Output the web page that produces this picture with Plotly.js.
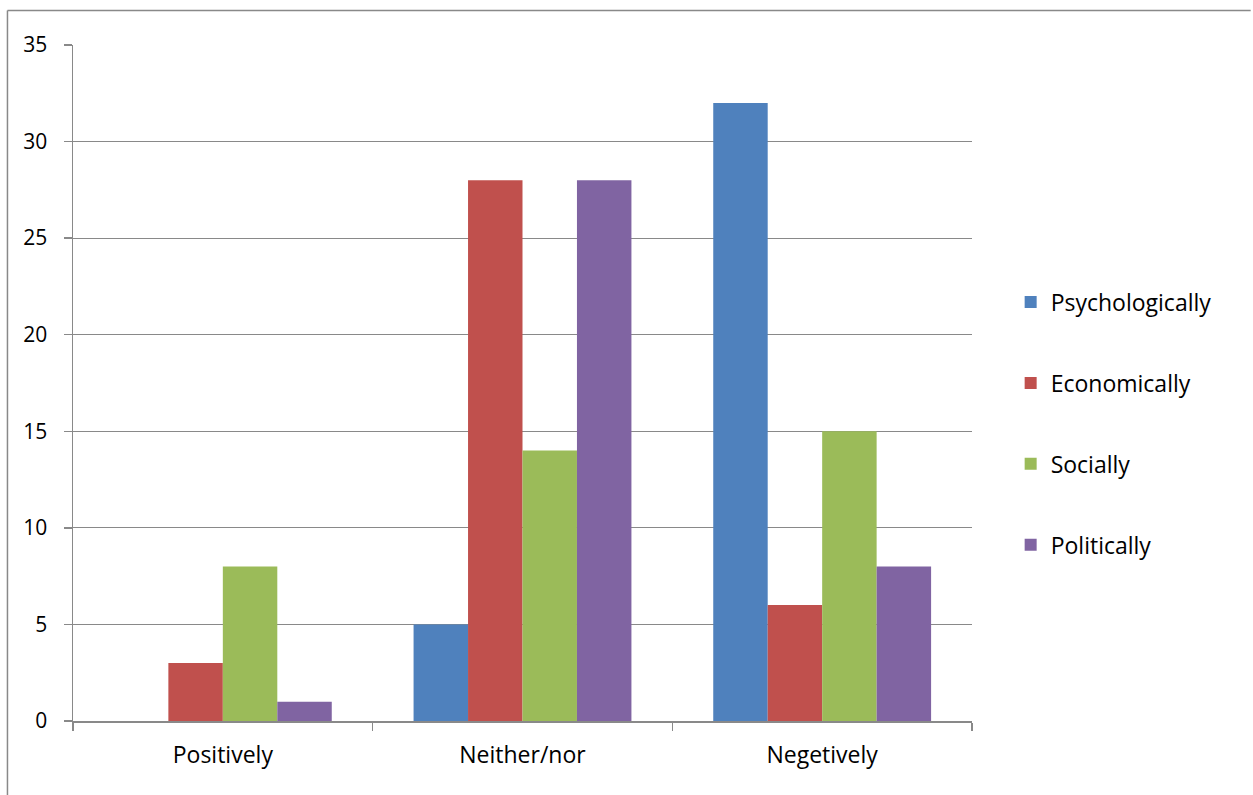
<!DOCTYPE html>
<html>
<head>
<meta charset="utf-8">
<script src="https://cdn.plot.ly/plotly-3.0.1.min.js"></script>
<style>
  html, body { margin: 0; padding: 0; background: #fff; }
  #chart { width: 1253px; height: 795px; }
</style>
</head>
<body>
<div id="chart"></div>
<script>
// Response categories along the x axis
const categories = ['Positively', 'Neither/nor', 'Negetively'];

// One series per impact dimension
const seriesNames = ['Psychologically', 'Economically', 'Socially', 'Politically'];
const psychologically = [0, 5, 32];
const economically = [3, 28, 6];
const socially = [8, 14, 15];
const politically = [1, 28, 8];

const yTicks = [0, 5, 10, 15, 20, 25, 30, 35];

const seriesValues = [psychologically, economically, socially, politically];
const seriesColors = ['#4F81BD', '#C0504D', '#9BBB59', '#8064A2'];

const traces = seriesNames.map((name, i) => ({
  type: 'bar',
  name: name,
  x: categories,
  y: seriesValues[i],
  legendgroup: 'g' + i,
  marker: { color: seriesColors[i], line: { width: 0 } },
  hoverinfo: 'x+y+name'
}));

const gridGray = '#898989';
const family = '"Open Sans", Lato, sans-serif';
const font = { family: family, size: 23, color: '#000' };
const numFont = { family: family, size: 21, color: '#000' };

const layout = {
  width: 1253,
  height: 795,
  margin: { l: 73, r: 281, t: 45, b: 74, pad: 0 },
  paper_bgcolor: '#fff',
  plot_bgcolor: '#fff',
  font: font,
  barmode: 'group',
  bargap: 0.273,
  bargroupgap: 0,
  showlegend: true,
  legend: {
    x: 1.043, xanchor: 'left',
    y: 0.44, yanchor: 'middle',
    font: font,
    traceorder: 'grouped',
    tracegroupgap: 48,
    bgcolor: 'rgba(0,0,0,0)'
  },
  xaxis: {
    type: 'category',
    showline: true, linecolor: gridGray, linewidth: 1.5,
    ticks: 'outside', tickson: 'boundaries', ticklen: 8, tickcolor: gridGray, tickwidth: 1.5,
    showgrid: false,
    tickfont: font,
    ticklabelstandoff: 13,
    fixedrange: true
  },
  yaxis: {
    range: [0, 35],
    tickvals: yTicks,
    showline: true, linecolor: gridGray, linewidth: 1.5,
    ticks: 'outside', ticklen: 8, tickcolor: gridGray, tickwidth: 1.5,
    showgrid: true, gridcolor: gridGray, gridwidth: 1.2,
    zeroline: false,
    tickfont: numFont,
    ticklabelstandoff: 12,
    fixedrange: true
  },
  shapes: [
    // outer frame: left and top edges
    { type: 'line', xref: 'paper', yref: 'paper', x0: -0.0729, x1: -0.0729, y0: 1.051, y1: -0.2,
      line: { color: gridGray, width: 1.5 } },
    { type: 'line', xref: 'paper', yref: 'paper', x0: -0.0729, x1: 1.31, y0: 1.051, y1: 1.051,
      line: { color: gridGray, width: 1.5 } }
  ]
};

Plotly.newPlot('chart', traces, layout, { displayModeBar: false, staticPlot: true });
</script>
</body>
</html>
